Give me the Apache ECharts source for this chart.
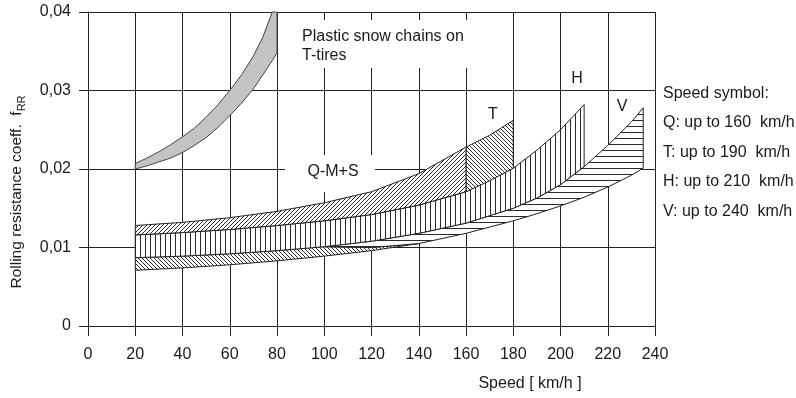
<!DOCTYPE html>
<html>
<head>
<meta charset="utf-8">
<script src="https://cdn.jsdelivr.net/npm/echarts@6/dist/echarts.min.js"></script>
<style>
  html, body { margin: 0; padding: 0; background: #fff; }
  #chart { width: 796px; height: 398px; }
</style>
</head>
<body>
<div id="chart"></div>
<script>
// Axis ticks
const speedTicks = [0, 20, 40, 60, 80, 100, 120, 140, 160, 180, 200, 220, 240];
const coeffTicks = [0, 0.01, 0.02, 0.03, 0.04];

// Plastic snow chains on T-tires (grey band)
const chainSpeed = [20, 25, 30, 35, 40, 45, 50, 55, 60, 65, 70, 74, 78, 80];
const chainUpper = [0.0207, 0.0214, 0.0222, 0.0231, 0.0241, 0.0252, 0.0266, 0.0282, 0.0300, 0.0320, 0.0344, 0.0368, 0.0400, 0.0400];
const chainLower = [0.0200, 0.0204, 0.0209, 0.0214, 0.0221, 0.0230, 0.0240, 0.0253, 0.0268, 0.0284, 0.0302, 0.0320, 0.0338, 0.0348];

// Q-M+S band (top edge); its lower edge is the H band top edge
const qSpeed = [20, 40, 60, 80, 100, 120, 140, 160];
const qUpper = [0.0128, 0.0132, 0.0138, 0.0146, 0.0157, 0.0171, 0.0194, 0.0228];

const hSpeed = [20, 40, 60, 80, 100, 120, 140, 160, 180, 190, 200, 210];
const hUpper = [0.0116, 0.0119, 0.0123, 0.0128, 0.0134, 0.0142, 0.0154, 0.0171, 0.0201, 0.0224, 0.0250, 0.0282];
const hLower = [0.0087, 0.0089, 0.0092, 0.0096, 0.0101, 0.0108, 0.0118, 0.0131, 0.0150, 0.0163, 0.0180, 0.0203];

// T band part above the H band
const tSpeed = [160, 170, 180];
const tUpper = [0.0228, 0.0243, 0.0262];
const tLower = [0.0171, 0.0185, 0.0201];

// V band (horizontal hatching), starting as a sliver under the H band
const vSpeed = [100, 120, 140, 160, 180, 190, 200, 210, 220, 230, 235];
const vUpper = [0.0101, 0.0108, 0.0118, 0.0131, 0.0150, 0.0163, 0.0180, 0.0203, 0.0230, 0.0260, 0.0278];
const vLower = [0.0101, 0.0100, 0.0105, 0.0118, 0.0134, 0.0143, 0.0153, 0.0164, 0.0177, 0.0192, 0.0201];

// lower band at low speed (back-slash hatching), running out under the V band
const lowSpeed = [20, 40, 60, 80, 100, 120, 140];
const lowUpper = [0.0087, 0.0089, 0.0092, 0.0096, 0.0101, 0.0100, 0.0105];
const lowLower = [0.0071, 0.0074, 0.0078, 0.0083, 0.0089, 0.0096, 0.0105];

// Speed symbol legend lines
const legendLines = ['Speed symbol:', 'Q: up to 160  km/h', 'T: up to 190  km/h', 'H: up to 210  km/h', 'V: up to 240  km/h'];

const FONT = '"Liberation Sans", Arial, sans-serif';
const INK = '#1a1a1a';

// Build a repeating hatch tile
function hatch(kind, size) {
  const c = document.createElement('canvas');
  c.width = size; c.height = size;
  const g = c.getContext('2d');
  g.fillStyle = '#fff';
  g.fillRect(0, 0, size, size);
  g.strokeStyle = '#2a2a2a';
  g.lineWidth = 1;
  g.beginPath();
  if (kind === 'slash') {
    for (const o of [-size, 0, size]) { g.moveTo(o, size); g.lineTo(o + size, 0); }
  } else if (kind === 'back') {
    for (const o of [-size, 0, size]) { g.moveTo(o, 0); g.lineTo(o + size, size); }
  } else if (kind === 'vert') {
    g.moveTo(0.5, 0); g.lineTo(0.5, size);
  } else {
    g.moveTo(0, 0.5); g.lineTo(size, 0.5);
  }
  g.stroke();
  return { image: c, repeat: 'repeat' };
}

// A filled band between two edges, drawn as one polygon in axis coordinates
function band(name, xs, lo, hi, fill, stroke, z) {
  return {
    type: 'custom',
    name: name,
    z: z,
    silent: true,
    data: xs.map((x, i) => [x, lo[i], hi[i]]),
    encode: { x: 0, y: [1, 2] },
    renderItem: function (params, api) {
      if (params.dataIndex !== 0) return null;
      const top = xs.map((x, i) => api.coord([x, hi[i]]));
      const bot = xs.map((x, i) => api.coord([x, lo[i]])).reverse();
      return {
        type: 'polygon',
        shape: { points: top.concat(bot) },
        style: { fill: fill, stroke: stroke, lineWidth: 1 }
      };
    }
  };
}

const chart = echarts.init(document.getElementById('chart'));

chart.setOption({
  animation: false,
  backgroundColor: '#fff',
  grid: { left: 88, right: 141, top: 12, bottom: 72, show: false },
  xAxis: {
    type: 'value',
    min: speedTicks[0], max: speedTicks[speedTicks.length - 1], interval: 20,
    axisLine: { show: true, lineStyle: { color: '#222', width: 1 } },
    axisTick: { show: true, length: 10, lineStyle: { color: '#222' } },
    axisLabel: { color: INK, fontFamily: FONT, fontSize: 16, margin: 21 },
    splitLine: { show: true, lineStyle: { color: '#222', width: 1 } }
  },
  yAxis: {
    type: 'value',
    min: coeffTicks[0], max: coeffTicks[coeffTicks.length - 1], interval: 0.01,
    axisLine: { show: true, lineStyle: { color: '#222', width: 1 } },
    axisTick: { show: true, length: 9, lineStyle: { color: '#222' } },
    axisLabel: {
      color: INK, fontFamily: FONT, fontSize: 16, margin: 17,
      formatter: v => (v === 0 ? '0' : v.toFixed(2).replace('.', ','))
    },
    splitLine: { show: true, lineStyle: { color: '#222', width: 1 } }
  },
  graphic: [
    // label backgrounds that interrupt the grid
    { type: 'rect', left: 292, top: 20, shape: { width: 184, height: 48 }, style: { fill: '#fff' }, z: 5 },
    { type: 'rect', left: 285, top: 155, shape: { width: 90, height: 37 }, style: { fill: '#fff' }, z: 5 },
    { type: 'text', left: 302, top: 27, z: 60,
      style: { text: 'Plastic snow chains on\nT-tires', font: '16px ' + FONT, fill: INK, lineHeight: 19 } },
    { type: 'text', x: 333, y: 172, z: 60,
      style: { text: 'Q-M+S', font: '16px ' + FONT, fill: INK, align: 'center', verticalAlign: 'middle' } },
    { type: 'text', x: 493, y: 115, z: 60,
      style: { text: 'T', font: '16px ' + FONT, fill: INK, align: 'center', verticalAlign: 'middle' } },
    { type: 'text', x: 577, y: 79, z: 60,
      style: { text: 'H', font: '16px ' + FONT, fill: INK, align: 'center', verticalAlign: 'middle' } },
    { type: 'text', x: 622, y: 107, z: 60,
      style: { text: 'V', font: '16px ' + FONT, fill: INK, align: 'center', verticalAlign: 'middle' } },
    { type: 'text', x: 663, y: 78.5, z: 60,
      style: { text: legendLines.join('\n'), font: '16px ' + FONT, fill: INK, verticalAlign: 'top', lineHeight: 29.5 } },
    { type: 'text', x: 530, y: 384, z: 60,
      style: { text: 'Speed [ km/h ]', font: '16px ' + FONT, fill: INK, align: 'center', verticalAlign: 'middle' } },
    { type: 'text', x: 17, y: 192, rotation: Math.PI / 2, z: 60,
      style: {
        text: '{a|Rolling resistance coeff.  f}{b|RR}',
        align: 'center', verticalAlign: 'middle', fill: INK,
        rich: {
          a: { font: '15.5px ' + FONT, fill: INK, lineHeight: 20, verticalAlign: 'middle' },
          b: { font: '11px ' + FONT, fill: INK, lineHeight: 20, verticalAlign: 'bottom' }
        }
      } }
  ],
  series: [
    band('chains', chainSpeed, chainLower, chainUpper, '#c3c3c3', '#444', 10),
    band('low', lowSpeed, lowLower, lowUpper, hatch('back', 4), '#222', 11),
    band('V', vSpeed, vLower, vUpper, hatch('horiz', 6), '#222', 11),
    band('H', hSpeed, hLower, hUpper, hatch('vert', 5), '#222', 12),
    band('T', tSpeed, tLower, tUpper, hatch('back', 4), '#222', 12),
    band('Q-M+S', qSpeed, hUpper.slice(0, qSpeed.length), qUpper, hatch('slash', 4), '#222', 13)
  ]
});
</script>
</body>
</html>
